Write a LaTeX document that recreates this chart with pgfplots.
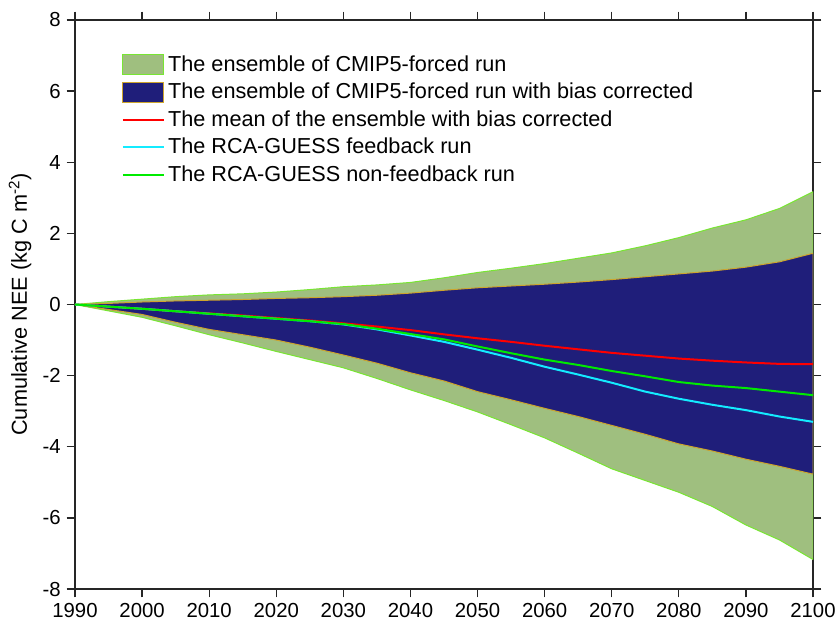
\documentclass[border=0pt]{standalone}
\usepackage{pgfplots}
\pgfplotsset{compat=1.18}
\usepackage{fontspec}
\setmainfont{Liberation Sans}
\definecolor{ensgreen}{RGB}{159,191,127}
\definecolor{ensgreenedge}{RGB}{120,230,50}
\definecolor{ensnavy}{RGB}{31,30,122}
\definecolor{ensnavyedge}{RGB}{205,165,45}
\definecolor{mred}{RGB}{255,0,0}
\definecolor{mcyan}{RGB}{20,235,255}
\definecolor{mgreen}{RGB}{0,235,0}
\pgfplotsset{
  boxlegend/.style={legend image code/.code={\draw[##1] (0pt,-6pt) rectangle (24.6pt,6pt);}},
  linelegend/.style={legend image code/.code={\draw[##1] (0pt,0pt) -- (24.6pt,0pt);}},
}
\begin{document}
\begin{tikzpicture}
\begin{axis}[
  at={(0pt,0pt)}, anchor=south west,
  scale only axis, width=442.8pt, height=341.4pt,
  xmin=1990, xmax=2100, ymin=-8, ymax=8,
  xtick={1990,2000,...,2100}, ytick={-8,-6,...,8},
  minor tick num=0,
  tick align=outside, major tick length=5pt,
  tick pos=both,
  xticklabel={\pgfmathprintnumber[1000 sep={},assume math mode=true]{\tick}},
  yticklabel={\pgfmathprintnumber[assume math mode=true]{\tick}},
  tick label style={font=\fontsize{12.2}{14}\selectfont},
  axis line style={line width=0.7pt, black!85},
  every tick/.style={line width=0.8pt, black!85},
  ylabel={Cumulative NEE (kg C m\textsuperscript{-2})},
  ylabel style={font=\fontsize{13}{15}\selectfont},
  legend style={at={(0.063,0.944)}, anchor=north west, draw=none, fill=none,
    font=\fontsize{13}{15}\selectfont, row sep=1.6pt, inner sep=0pt},
  legend cell align=left,
]
\addplot[fill=ensgreen, draw=ensgreenedge, line width=0.6pt, boxlegend]
coordinates {
(1990,0) (1995,0.08) (2000,0.15) (2005,0.22) (2010,0.27) (2015,0.30) (2020,0.35)
(2025,0.42) (2030,0.50) (2035,0.55) (2040,0.62) (2045,0.75) (2050,0.90) (2055,1.02)
(2060,1.15) (2065,1.30) (2070,1.45) (2075,1.65) (2080,1.88) (2085,2.15) (2090,2.38)
(2095,2.70) (2100,3.17)
(2100,-7.17) (2095,-6.62) (2090,-6.20) (2085,-5.68) (2080,-5.28) (2075,-4.95) (2070,-4.62)
(2065,-4.18) (2060,-3.75) (2055,-3.38) (2050,-3.02) (2045,-2.70) (2040,-2.40) (2035,-2.08)
(2030,-1.78) (2025,-1.55) (2020,-1.32) (2015,-1.08) (2010,-0.85) (2005,-0.60) (2000,-0.36)
(1995,-0.18) (1990,0)
} -- cycle;
\addlegendentry{The ensemble of CMIP5-forced run}
\addplot[fill=ensnavy, draw=ensnavyedge, line width=0.6pt, boxlegend]
coordinates {
(1990,0) (1995,0.03) (2000,0.07) (2005,0.10) (2010,0.12) (2015,0.14) (2020,0.17)
(2025,0.19) (2030,0.22) (2035,0.26) (2040,0.32) (2045,0.40) (2050,0.47) (2055,0.52)
(2060,0.57) (2065,0.63) (2070,0.70) (2075,0.78) (2080,0.86) (2085,0.94) (2090,1.05)
(2095,1.20) (2100,1.44)
(2100,-4.77) (2095,-4.55) (2090,-4.35) (2085,-4.12) (2080,-3.92) (2075,-3.65) (2070,-3.40)
(2065,-3.15) (2060,-2.92) (2055,-2.68) (2050,-2.45) (2045,-2.15) (2040,-1.92) (2035,-1.65)
(2030,-1.42) (2025,-1.20) (2020,-1.00) (2015,-0.85) (2010,-0.70) (2005,-0.50) (2000,-0.28)
(1995,-0.14) (1990,0)
} -- cycle;
\addlegendentry{The ensemble of CMIP5-forced run with bias corrected}
\addplot[mred, line width=1.2pt, linelegend]
coordinates {
(1990,0) (1995,-0.06) (2000,-0.12) (2005,-0.19) (2010,-0.25) (2015,-0.31) (2020,-0.38)
(2025,-0.45) (2030,-0.53) (2035,-0.62) (2040,-0.72) (2045,-0.84) (2050,-0.95) (2055,-1.05)
(2060,-1.16) (2065,-1.26) (2070,-1.36) (2075,-1.44) (2080,-1.52) (2085,-1.58) (2090,-1.63)
(2095,-1.67) (2100,-1.68)
};
\addlegendentry{The mean of the ensemble with bias corrected}
\addplot[mcyan, line width=1.2pt, linelegend]
coordinates {
(1990,0) (1995,-0.06) (2000,-0.12) (2005,-0.19) (2010,-0.26) (2015,-0.33) (2020,-0.40)
(2025,-0.47) (2030,-0.56) (2035,-0.70) (2040,-0.87) (2045,-1.05) (2050,-1.27) (2055,-1.50)
(2060,-1.75) (2065,-1.97) (2070,-2.20) (2075,-2.45) (2080,-2.65) (2085,-2.82) (2090,-2.97)
(2095,-3.15) (2100,-3.30)
};
\addlegendentry{The RCA-GUESS feedback run}
\addplot[mgreen, line width=1.2pt, linelegend]
coordinates {
(1990,0) (1995,-0.06) (2000,-0.12) (2005,-0.19) (2010,-0.26) (2015,-0.33) (2020,-0.40)
(2025,-0.47) (2030,-0.55) (2035,-0.68) (2040,-0.83) (2045,-0.98) (2050,-1.18) (2055,-1.37)
(2060,-1.55) (2065,-1.70) (2070,-1.87) (2075,-2.02) (2080,-2.18) (2085,-2.28) (2090,-2.35)
(2095,-2.45) (2100,-2.55)
};
\addlegendentry{The RCA-GUESS non-feedback run}
\end{axis}
\pgfresetboundingbox
\useasboundingbox (-45pt,-22.2pt) rectangle (456.6pt,353.4pt);
\end{tikzpicture}
\end{document}
